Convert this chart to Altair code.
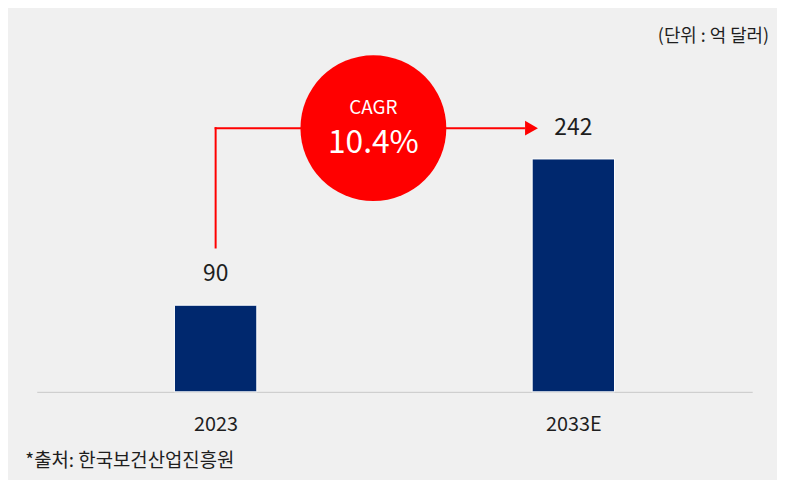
import altair as alt
import pandas as pd

# ---- data ----
categories = ["2023", "2033E"]
positions = [0, 1]
values = [90, 242]
cagr_title = "CAGR"
cagr_value = "10.4%"
unit_note = "(단위 : 억 달러)"
source_note = "*출처: 한국보건산업진흥원"

# ---- annotation anchors (data units) ----
arrow_level = 274
arrow_bottom = 150
arrow_end = 0.862
arrowhead_x = 0.883
bubble_x = 0.441
cagr_title_y = 295
cagr_value_y = 259

FONT = "Noto Sans CJK KR"
TEXT = "#1e1e1e"
NAVY = "#00286E"
RED = "#FF0000"

bars_df = pd.DataFrame({"pos": positions, "value": values, "cat": categories})

label_expr = " : ".join(
    [f"datum.value == {p} ? '{c}'" for p, c in zip(positions, categories)]
) + " : ''"

xscale = alt.Scale(domain=[-0.5, 1.5], nice=False, zero=False, padding=0)
yscale = alt.Scale(domain=[0, 348.5], nice=False, zero=True)

x_axis = alt.Axis(
    values=positions,
    labelExpr=label_expr,
    grid=False,
    ticks=False,
    tickSize=0,
    domainColor="#c8c8c8",
    domainWidth=1,
    labelFont=FONT,
    labelFontSize=20,
    labelColor=TEXT,
    labelPadding=33,
    labelBaseline="middle",
    title=source_note,
    titleFont=FONT,
    titleFontSize=19,
    titleFontWeight="normal",
    titleColor=TEXT,
    titleAlign="left",
    titleBaseline="middle",
    titleX=-12,
    titleY=69,
)

base = alt.Chart(bars_df)

bars = base.mark_bar(size=83, color=NAVY, stroke="white", strokeWidth=1).encode(
    x=alt.X("pos:Q", scale=xscale, axis=x_axis),
    y=alt.Y("value:Q", scale=yscale, axis=None),
)

bar_labels = base.mark_text(
    dy=-31, baseline="middle", font=FONT, fontSize=23, color=TEXT
).encode(
    x=alt.X("pos:Q", scale=xscale),
    y=alt.Y("value:Q", scale=yscale),
    text="value:Q",
)

vline_df = pd.DataFrame({"x": [positions[0]], "y": [arrow_bottom], "y2": [arrow_level]})
vline = alt.Chart(vline_df).mark_rule(color=RED, strokeWidth=2, strokeCap="square").encode(
    x=alt.X("x:Q", scale=xscale), y=alt.Y("y:Q", scale=yscale), y2="y2:Q"
)

hline_df = pd.DataFrame({"x": [positions[0]], "x2": [arrow_end], "y": [arrow_level]})
hline = alt.Chart(hline_df).mark_rule(color=RED, strokeWidth=2, strokeCap="square").encode(
    x=alt.X("x:Q", scale=xscale), x2="x2:Q", y=alt.Y("y:Q", scale=yscale)
)

head_df = pd.DataFrame({"x": [arrowhead_x], "y": [arrow_level]})
head = alt.Chart(head_df).mark_point(
    shape="triangle-right", size=225, filled=True, color=RED, opacity=1
).encode(x=alt.X("x:Q", scale=xscale), y=alt.Y("y:Q", scale=yscale))

bubble_df = pd.DataFrame({"x": [bubble_x], "y": [arrow_level]})
bubble = alt.Chart(bubble_df).mark_point(
    shape="circle", size=147 * 147, filled=True, color=RED, opacity=1
).encode(x=alt.X("x:Q", scale=xscale), y=alt.Y("y:Q", scale=yscale))

cagr_df = pd.DataFrame(
    {"x": [bubble_x, bubble_x], "y": [cagr_title_y, cagr_value_y],
     "t": [cagr_title, cagr_value], "s": [19, 32]}
)
cagr_text = alt.Chart(cagr_df).mark_text(
    baseline="middle", font=FONT, color="white"
).encode(
    x=alt.X("x:Q", scale=xscale),
    y=alt.Y("y:Q", scale=yscale),
    text="t:N",
    size=alt.Size("s:Q", scale=None, legend=None),
)

chart = (
    alt.layer(bars, bar_labels, vline, hline, head, bubble, cagr_text)
    .properties(
        width=721,
        height=338,
        autosize=alt.AutoSizeParams(type="none"),
        padding={"left": 29, "right": 25, "top": 47, "bottom": 87},
        background="#F0F0F0",
        title=alt.TitleParams(
            text=unit_note,
            anchor="end",
            orient="top",
            frame="group",
            font=FONT,
            fontSize=18,
            fontWeight="normal",
            color=TEXT,
            baseline="bottom",
            offset=11,
            dx=17,
            dy=20,
        ),
    )
    .configure_view(strokeWidth=0)
)

chart.save("out.html", embed_options={"renderer": "svg", "actions": False})
